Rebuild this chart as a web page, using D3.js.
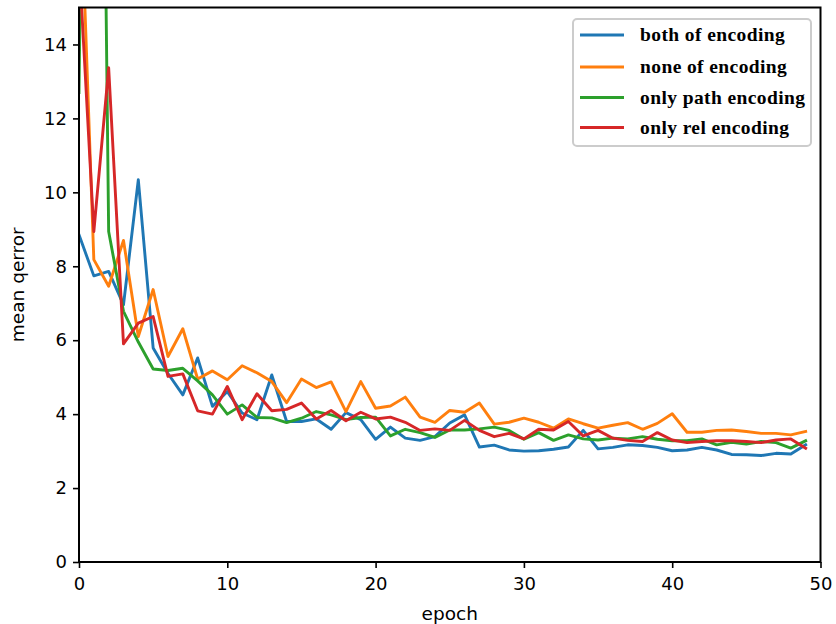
<!DOCTYPE html>
<html>
<head>
<meta charset="utf-8">
<script src="https://cdn.jsdelivr.net/npm/d3@7"></script>
<style>
  body { margin: 0; background: #fff; }
  svg { display: block; }
</style>
</head>
<body>
<div id="chart"></div>
<script>
var epochs = d3.range(0, 50)

var bothEnc = [8.85, 7.74, 7.86, 6.96, 10.34, 5.79, 5.1, 4.52, 5.52, 4.21, 4.61, 4.03, 3.85, 5.06, 3.8, 3.8, 3.87, 3.59, 4.04, 3.85,
    3.32, 3.65, 3.35, 3.29, 3.39, 3.76, 3.98, 3.11, 3.16, 3.03, 3.0, 3.01, 3.05, 3.11, 3.56, 3.06, 3.10, 3.17, 3.15, 3.10,
    3.01, 3.03, 3.10, 3.03, 2.91, 2.90, 2.88, 2.94, 2.92, 3.17]
var noneEnc = [19.5, 8.18, 7.46, 8.7, 6.1, 7.37, 5.56, 6.31, 4.95, 5.17, 4.93, 5.31, 5.12, 4.88, 4.31, 4.95, 4.72, 4.87, 4.07, 4.88,
    4.16, 4.22, 4.46, 3.92, 3.78, 4.10, 4.05, 4.30, 3.73, 3.78, 3.89, 3.78, 3.62, 3.87, 3.74, 3.62, 3.70, 3.77, 3.59, 3.75,
    4.01, 3.51, 3.51, 3.56, 3.57, 3.53, 3.48, 3.48, 3.44, 3.53]
var pathEnc = [12.7, 44, 8.94, 6.78, 5.95, 5.22, 5.18, 5.24, 4.9, 4.52, 4.0, 4.25, 3.91, 3.9, 3.77, 3.89, 4.07, 3.98, 3.85, 3.91,
    3.92, 3.41, 3.59, 3.50, 3.37, 3.57, 3.57, 3.60, 3.65, 3.56, 3.32, 3.50, 3.29, 3.44, 3.33, 3.30, 3.35, 3.33, 3.39, 3.32,
    3.28, 3.28, 3.33, 3.17, 3.24, 3.19, 3.26, 3.23, 3.08, 3.28]
var relEnc = [16.3, 8.94, 13.37, 5.9, 6.46, 6.64, 5.02, 5.09, 4.09, 4.0, 4.75, 3.85, 4.55, 4.09, 4.13, 4.30, 3.87, 4.10, 3.82, 4.05,
    3.87, 3.92, 3.78, 3.56, 3.60, 3.56, 3.83, 3.56, 3.39, 3.48, 3.33, 3.59, 3.57, 3.80, 3.41, 3.56, 3.35, 3.29, 3.26, 3.50,
    3.30, 3.23, 3.26, 3.28, 3.28, 3.26, 3.23, 3.30, 3.33, 3.08]

var seriesNames = ["both of encoding", "none of encoding", "only path encoding", "only rel encoding"]
var seriesColors = ["#1f77b4", "#ff7f0e", "#2ca02c", "#d62728"]
var xTicks = [0, 10, 20, 30, 40, 50]
var yTicks = [0, 2, 4, 6, 8, 10, 12, 14]

var allSeries = [bothEnc, noneEnc, pathEnc, relEnc]

var width = 836, height = 624
var margin = { top: 7.5, right: 15.5, bottom: 62, left: 79 }
var innerW = width - margin.left - margin.right
var innerH = height - margin.top - margin.bottom

var svg = d3.select('#chart').append('svg')
    .attr('width', width)
    .attr('height', height)

var g = svg.append('g')
    .attr('transform', 'translate(' + margin.left + ',' + margin.top + ')')

var x = d3.scaleLinear().domain([0, 50]).range([0, innerW])
var y = d3.scaleLinear().domain([0, 15]).range([innerH, 0])

g.append('clipPath').attr('id', 'plotclip')
    .append('rect')
    .attr('width', innerW)
    .attr('height', innerH)

var line = d3.line()
    .x(function(d, i){ return x(epochs[i]) })
    .y(function(d){ return y(d) })

g.append('g').attr('clip-path', 'url(#plotclip)')
    .selectAll('.series')
    .data(allSeries)
    .enter().append('path')
    .attr('class', 'series')
    .attr('d', function(d){ return line(d) })
    .attr('fill', 'none')
    .attr('stroke', function(d, i){ return seriesColors[i] })
    .attr('stroke-width', 2.9)
    .attr('stroke-linejoin', 'round')
    .attr('stroke-linecap', 'square')

// axes
var xAxis = g.append('g')
    .attr('transform', 'translate(0,' + innerH + ')')
    .call(d3.axisBottom(x).tickValues(xTicks).tickSize(6).tickPadding(6).tickFormat(d3.format('d')))
var yAxis = g.append('g')
    .call(d3.axisLeft(y).tickValues(yTicks).tickSize(6).tickPadding(6).tickFormat(d3.format('d')))

;[xAxis, yAxis].forEach(function(a){
    a.select('.domain').remove()
    a.selectAll('.tick line').attr('stroke', '#000').attr('stroke-width', 1.6)
    a.selectAll('.tick text')
        .attr('fill', '#000')
        .style('font-family', 'DejaVu Sans')
        .style('font-size', '18px')
})
xAxis.selectAll('.tick text').attr('dy', '0.9em')

// frame
g.append('rect')
    .attr('width', innerW)
    .attr('height', innerH)
    .attr('fill', 'none')
    .attr('stroke', '#000')
    .attr('stroke-width', 2)

svg.append('text')
    .attr('x', margin.left + innerW / 2)
    .attr('y', 620)
    .attr('text-anchor', 'middle')
    .style('font-family', 'DejaVu Sans')
    .style('font-size', '18.5px')
    .text('epoch')

svg.append('text')
    .attr('transform', 'translate(24,' + (margin.top + innerH / 2) + ') rotate(-90)')
    .attr('text-anchor', 'middle')
    .style('font-family', 'DejaVu Sans')
    .style('font-size', '18.5px')
    .text('mean qerror')

// legend
var legend = svg.append('g').attr('transform', 'translate(573,19)')
legend.append('rect')
    .attr('width', 238)
    .attr('height', 127)
    .attr('rx', 4)
    .attr('fill', '#fff')
    .attr('fill-opacity', 0.9)
    .attr('stroke', '#cccccc')
    .attr('stroke-width', 2)

var rowY = [16, 48, 78.5, 108.5]
var items = legend.selectAll('.item')
    .data(seriesNames)
    .enter().append('g')
    .attr('class', 'item')
    .attr('transform', function(d, i){ return 'translate(0,' + rowY[i] + ')' })

items.append('line')
    .attr('x1', 7).attr('x2', 51)
    .attr('stroke', function(d, i){ return seriesColors[i] })
    .attr('stroke-width', 2.9)

items.append('text')
    .attr('x', 67)
    .attr('y', 6)
    .style('font-family', 'Liberation Serif')
    .style('font-weight', 'bold')
    .style('font-size', '19.5px')
    .style('letter-spacing', '0.4px')
    .text(function(d){ return d })
</script>
</body>
</html>
